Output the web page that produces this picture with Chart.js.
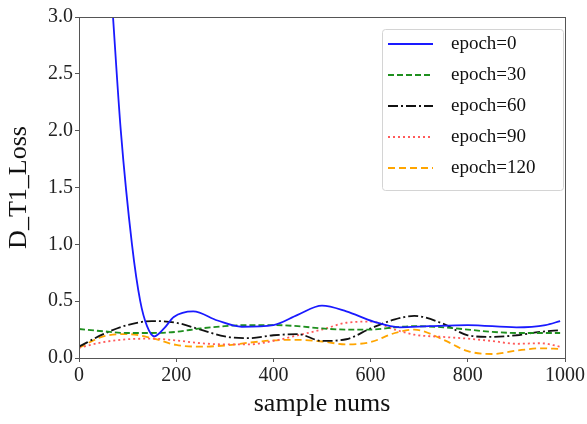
<!DOCTYPE html>
<html>
<head>
<meta charset="utf-8">
<script src="https://cdn.jsdelivr.net/npm/chart.js@4.4.1/dist/chart.umd.min.js"></script>
<style>
  html, body { margin: 0; padding: 0; background: #fff; }
  #wrap { width: 587px; height: 424px; }
</style>
</head>
<body>
<div id="wrap"><canvas id="lossChart" width="587" height="424"></canvas></div>
<script>
(function() {
  'use strict';

  // sample positions shared by the slower-moving curves
  var sampleNums = [0, 50, 100, 150, 200, 250, 300, 350, 400, 450, 500, 550, 600, 650, 690, 750, 800, 850, 900, 950, 990];

  // epoch=0 drops steeply at the start, so it has its own sample positions
  var epoch0X = [0, 50, 70, 86, 109, 126, 140, 155, 175, 195, 235, 285, 335, 400, 450, 500, 550, 606, 660, 720, 800, 900, 960, 990];
  var epoch0 = [7.2, 4.3, 3.0, 2.0, 1.0, 0.5, 0.28, 0.19, 0.26, 0.36, 0.41, 0.33, 0.275, 0.29, 0.38, 0.46, 0.41, 0.32, 0.27, 0.28, 0.29, 0.27, 0.29, 0.325];

  var epoch30 = [0.255, 0.235, 0.22, 0.22, 0.23, 0.26, 0.28, 0.29, 0.29, 0.28, 0.26, 0.25, 0.25, 0.27, 0.28, 0.27, 0.25, 0.23, 0.22, 0.22, 0.22];
  var epoch60 = [0.10, 0.21, 0.29, 0.325, 0.31, 0.25, 0.19, 0.175, 0.2, 0.21, 0.15, 0.165, 0.26, 0.34, 0.37, 0.30, 0.20, 0.185, 0.2, 0.23, 0.245];
  var epoch90 = [0.09, 0.14, 0.165, 0.17, 0.155, 0.13, 0.12, 0.12, 0.15, 0.2, 0.25, 0.31, 0.32, 0.25, 0.205, 0.185, 0.17, 0.15, 0.125, 0.13, 0.10];
  var epoch120 = [0.09, 0.19, 0.21, 0.175, 0.115, 0.1, 0.11, 0.135, 0.155, 0.16, 0.145, 0.12, 0.14, 0.22, 0.25, 0.16, 0.06, 0.035, 0.065, 0.085, 0.08];

  var xTicks = [0, 200, 400, 600, 800, 1000];
  var yTicks = [0, 0.5, 1.0, 1.5, 2.0, 2.5, 3.0];

  var serif = '"Liberation Serif", "Times New Roman", serif';

  function points(xs, ys) {
    return ys.map(function(y, i) { return { x: xs[i], y: y }; });
  }

  function series(label, xs, ys, color, dash) {
    return {
      label: label,
      data: points(xs, ys),
      borderColor: color,
      backgroundColor: color,
      borderWidth: 1.8,
      borderDash: dash,
      pointRadius: 0,
      fill: false,
      cubicInterpolationMode: 'monotone'
    };
  }

  // matplotlib-like box around the axes plus an inset legend
  var frameAndLegend = {
    id: 'frameAndLegend',
    afterDraw: function(chart) {
      var ctx = chart.ctx;
      var area = chart.chartArea;
      ctx.save();
      ctx.strokeStyle = '#555';
      ctx.lineWidth = 1;
      ctx.strokeRect(area.left + 0.5, area.top + 0.5, area.right - area.left, area.bottom - area.top);

      var bx = area.right - 183, by = area.top + 12, bw = 181, bh = 161;
      ctx.beginPath();
      ctx.roundRect(bx + 0.5, by + 0.5, bw, bh, 3);
      ctx.fillStyle = 'rgba(255,255,255,0.85)';
      ctx.fill();
      ctx.strokeStyle = '#d4d4d4';
      ctx.stroke();

      ctx.font = '19px ' + serif;
      ctx.textBaseline = 'middle';
      chart.data.datasets.forEach(function(ds, i) {
        var cy = by + 15 + i * 31;
        ctx.beginPath();
        ctx.setLineDash(ds.borderDash || []);
        ctx.strokeStyle = ds.borderColor;
        ctx.lineWidth = ds.borderWidth;
        ctx.moveTo(bx + 6, cy);
        ctx.lineTo(bx + 51, cy);
        ctx.stroke();
        ctx.setLineDash([]);
        ctx.fillStyle = '#111';
        ctx.fillText(ds.label, bx + 69, cy);
      });
      ctx.restore();
    }
  };

  var ctx = document.getElementById('lossChart').getContext('2d');

  new Chart(ctx, {
    type: 'line',
    data: {
      datasets: [
        series('epoch=0', epoch0X, epoch0, '#1a1aff', []),
        series('epoch=30', sampleNums, epoch30, '#1f8f1f', [6, 3]),
        series('epoch=60', sampleNums, epoch60, '#111111', [10, 3, 2, 3]),
        series('epoch=90', sampleNums, epoch90, '#ff5a5a', [2, 3]),
        series('epoch=120', sampleNums, epoch120, '#ffa500', [7, 4])
      ]
    },
    options: {
      responsive: false,
      animation: false,
      layout: { padding: { left: 0, top: 17, right: 22, bottom: 0 } },
      plugins: {
        legend: { display: false },
        tooltip: { enabled: false }
      },
      scales: {
        x: {
          type: 'linear',
          min: 0,
          max: 1000,
          afterBuildTicks: function(scale) {
            scale.ticks = xTicks.map(function(v) { return { value: v }; });
          },
          afterFit: function(scale) { scale.height = 66; },
          grid: { drawOnChartArea: false, tickLength: 4, color: '#555' },
          border: { display: true, color: '#555' },
          ticks: {
            color: '#222',
            font: { family: serif, size: 20 },
            padding: 2,
            maxRotation: 0,
            callback: function(v) { return String(v); }
          },
          title: {
            display: true,
            text: 'sample nums',
            color: '#111',
            font: { family: serif, size: 26 },
            padding: { top: 0, bottom: 4 }
          }
        },
        y: {
          min: 0,
          max: 3,
          afterBuildTicks: function(scale) {
            scale.ticks = yTicks.map(function(v) { return { value: v }; });
          },
          afterFit: function(scale) { scale.width = 79; },
          grid: { drawOnChartArea: false, tickLength: 4, color: '#555' },
          border: { display: true, color: '#555' },
          ticks: {
            color: '#222',
            font: { family: serif, size: 20 },
            padding: 2,
            callback: function(v) { return Number(v).toFixed(1); }
          },
          title: {
            display: true,
            text: 'D_T1_Loss',
            color: '#111',
            font: { family: serif, size: 26 },
            padding: { top: 4, bottom: 0 }
          }
        }
      }
    },
    plugins: [frameAndLegend]
  });
})();
</script>
</body>
</html>
